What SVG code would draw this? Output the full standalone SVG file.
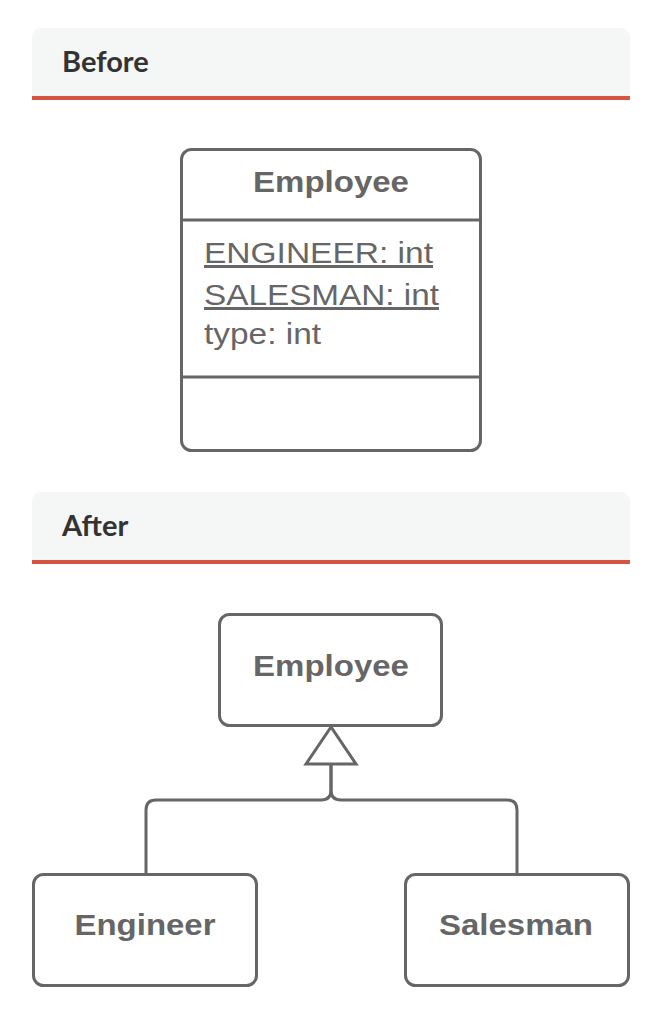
<svg xmlns="http://www.w3.org/2000/svg" width="660" height="1014" viewBox="0 0 660 1014">
<style>
.hdr{fill:#f5f6f6}
.red{stroke:#d6533f;stroke-width:4}
.htxt{font-family:Lato,"Open Sans",sans-serif;font-weight:bold;font-size:29px;fill:#333}
.box{fill:#fff;stroke:#666;stroke-width:3}
.ln{stroke:#666;stroke-width:3;fill:none}
.title{font-family:"Liberation Sans",Arial,sans-serif;font-weight:bold;font-size:30px;fill:#666;text-anchor:middle}
.attr{font-family:"Liberation Sans",Arial,sans-serif;font-size:30px;fill:#666}
</style>
<g id="before-header">
<path class="hdr" d="M32,96 V38 Q32,28 42,28 H620 Q630,28 630,38 V96 Z"/>
<line class="red" x1="32" y1="98" x2="630" y2="98"/>
<text class="htxt" x="62" y="72">Before</text>
</g>
<g id="employee-before">
<rect class="box" x="181.5" y="149.5" width="299" height="301" rx="10"/>
<line class="ln" x1="181.5" y1="220" x2="480.5" y2="220"/>
<line class="ln" x1="181.5" y1="377" x2="480.5" y2="377"/>
<text class="title" x="331" y="192" textLength="156" lengthAdjust="spacingAndGlyphs">Employee</text>
<text class="attr" x="204" y="263" textLength="229" lengthAdjust="spacingAndGlyphs" text-decoration="underline">ENGINEER: int</text>
<text class="attr" x="204" y="305" textLength="235" lengthAdjust="spacingAndGlyphs" text-decoration="underline">SALESMAN: int</text>
<text class="attr" x="204" y="344" textLength="117" lengthAdjust="spacingAndGlyphs">type: int</text>
</g>
<g id="after-header">
<path class="hdr" d="M32,560 V502 Q32,492 42,492 H620 Q630,492 630,502 V560 Z"/>
<line class="red" x1="32" y1="562" x2="630" y2="562"/>
<text class="htxt" x="62" y="536">After</text>
</g>
<g id="connectors">
<path class="ln" d="M331,765 V790 Q331,800 321,800 H156 Q146,800 146,810 V874"/>
<path class="ln" d="M331,765 V790 Q331,800 341,800 H507 Q517,800 517,810 V874"/>
<polygon class="ln" points="331,727 306,764 356,764" style="fill:#fff"/>
</g>
<g id="employee-after">
<rect class="box" x="219.5" y="614.5" width="222" height="111" rx="10"/>
<text class="title" x="331" y="676" textLength="156" lengthAdjust="spacingAndGlyphs">Employee</text>
</g>
<g id="engineer">
<rect class="box" x="33.5" y="874.5" width="223" height="111" rx="10"/>
<text class="title" x="145" y="935" textLength="141" lengthAdjust="spacingAndGlyphs">Engineer</text>
</g>
<g id="salesman">
<rect class="box" x="405.5" y="874.5" width="223" height="111" rx="10"/>
<text class="title" x="516" y="935" textLength="154" lengthAdjust="spacingAndGlyphs">Salesman</text>
</g>
</svg>
